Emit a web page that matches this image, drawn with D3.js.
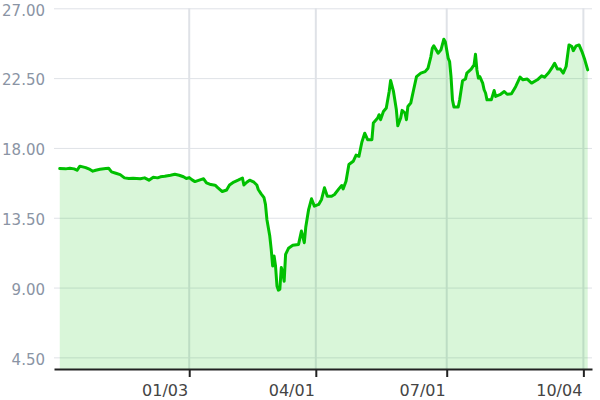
<!DOCTYPE html>
<html>
<head>
<meta charset="utf-8">
<script src="https://cdn.jsdelivr.net/npm/d3@7"></script>
<style>
  body { margin: 0; background: #fff; }
  svg { display: block; }
</style>
</head>
<body>
<div id="chart"></div>
<script>
// dates and closing values
const dates = [
  "2021-10-05","2021-10-09","2021-10-12","2021-10-15","2021-10-17","2021-10-19","2021-10-21","2021-10-23","2021-10-26","2021-10-28",
  "2021-10-30","2021-11-02","2021-11-06","2021-11-08","2021-11-10","2021-11-13","2021-11-16","2021-11-19","2021-11-22","2021-11-25",
  "2021-11-30","2021-12-03","2021-12-06","2021-12-09","2021-12-12","2021-12-14","2021-12-17","2021-12-21","2021-12-24","2021-12-27",
  "2021-12-30","2022-01-01","2022-01-03","2022-01-05","2022-01-07","2022-01-11","2022-01-13","2022-01-15","2022-01-18","2022-01-21",
  "2022-01-23","2022-01-26","2022-01-29","2022-01-31","2022-02-03","2022-02-06","2022-02-09","2022-02-10","2022-02-12","2022-02-14",
  "2022-02-17","2022-02-19","2022-02-20","2022-02-22","2022-02-24","2022-02-25","2022-02-26","2022-02-28","2022-03-01","2022-03-02",
  "2022-03-03","2022-03-04","2022-03-05","2022-03-06","2022-03-07","2022-03-08","2022-03-09","2022-03-10","2022-03-11","2022-03-13",
  "2022-03-16","2022-03-20","2022-03-22","2022-03-24","2022-03-25","2022-03-27","2022-03-29","2022-03-31","2022-04-03","2022-04-05",
  "2022-04-07","2022-04-09","2022-04-12","2022-04-14","2022-04-17","2022-04-19","2022-04-20","2022-04-22","2022-04-24","2022-04-27",
  "2022-04-29","2022-05-01","2022-05-03","2022-05-05","2022-05-07","2022-05-10","2022-05-11","2022-05-14","2022-05-15","2022-05-16",
  "2022-05-18","2022-05-20","2022-05-22","2022-05-23","2022-05-25","2022-05-27","2022-05-28","2022-05-30","2022-05-31","2022-06-02",
  "2022-06-03","2022-06-04","2022-06-06","2022-06-07","2022-06-08","2022-06-10","2022-06-13","2022-06-16","2022-06-18","2022-06-20",
  "2022-06-21","2022-06-22","2022-06-25","2022-06-27","2022-06-29","2022-06-30","2022-07-02","2022-07-03","2022-07-04","2022-07-05",
  "2022-07-06","2022-07-09","2022-07-10","2022-07-12","2022-07-14","2022-07-15","2022-07-18","2022-07-20","2022-07-21","2022-07-22",
  "2022-07-23","2022-07-24","2022-07-26","2022-07-27","2022-07-28","2022-07-29","2022-08-01","2022-08-03","2022-08-04","2022-08-07",
  "2022-08-10","2022-08-12","2022-08-15","2022-08-18","2022-08-21","2022-08-23","2022-08-26","2022-08-29","2022-09-02","2022-09-05",
  "2022-09-07","2022-09-10","2022-09-12","2022-09-14","2022-09-16","2022-09-18","2022-09-20","2022-09-22","2022-09-24","2022-09-26",
  "2022-09-27","2022-09-29","2022-10-01","2022-10-03","2022-10-05","2022-10-07"
];

const values = [
  16.67,16.65,16.69,16.65,16.56,16.82,16.78,16.73,16.61,16.50,
  16.56,16.62,16.67,16.69,16.46,16.37,16.28,16.07,16.03,16.05,
  16.01,16.07,15.92,16.11,16.07,16.14,16.17,16.24,16.30,16.24,
  16.14,16.03,16.09,15.94,15.83,15.96,16.01,15.75,15.64,15.60,
  15.43,15.19,15.29,15.61,15.80,15.92,16.06,15.61,15.79,15.92,
  15.79,15.61,15.32,15.04,14.79,14.36,13.39,12.32,11.46,10.39,
  11.03,10.39,9.10,8.83,8.89,10.29,9.97,9.41,11.14,11.53,
  11.72,11.78,12.64,11.89,12.88,14.03,14.72,14.25,14.36,14.68,
  15.43,14.89,14.89,15.00,15.36,15.58,15.36,15.85,16.93,17.14,
  17.54,17.46,18.37,18.95,18.53,18.53,19.61,19.93,20.14,19.82,
  20.35,20.57,21.64,22.35,21.64,20.46,19.43,19.93,20.42,20.25,
  19.82,20.67,20.89,21.32,21.75,22.60,22.82,22.92,23.14,23.89,
  24.43,24.58,24.11,24.32,25.01,24.85,23.79,23.57,22.60,21.10,
  20.64,20.64,21.10,22.33,22.44,22.82,23.08,23.35,24.04,23.03,
  22.50,22.60,22.18,21.75,21.54,21.10,21.10,21.70,21.32,21.43,
  21.64,21.46,21.49,21.96,22.56,22.39,22.44,22.18,22.39,22.65,
  22.56,22.86,23.14,23.46,23.08,23.08,22.82,23.25,24.64,24.53,
  24.27,24.58,24.64,24.21,23.68,23.03
];

const xTicks = ["2022-01-03", "2022-04-01", "2022-07-01", "2022-10-04"];
const yTicks = [4.5, 9, 13.5, 18, 22.5, 27];

const width = 600;
const height = 400;
const plotLeft = 54, plotRight = 592, plotTop = 8.3, plotBottom = 369;

const parse = d3.timeParse("%Y-%m-%d");
const data = dates.map((d, i) => ({ date: parse(d), value: values[i] }));

const svg = d3.select("#chart")
  .append("svg")
  .attr("width", width)
  .attr("height", height);

const x = d3.scaleTime()
  .domain([parse("2021-10-01"), parse("2022-10-10")])
  .range([plotLeft, plotRight]);

const y = d3.scaleLinear()
  .domain([3.75, 27])
  .range([plotBottom, plotTop]);

// horizontal grid + y labels
const yAxis = svg.append("g")
  .attr("transform", `translate(${plotLeft},0)`)
  .call(d3.axisLeft(y)
    .tickValues(yTicks)
    .tickFormat(d3.format(".2f"))
    .tickSizeInner(-(plotRight - plotLeft))
    .tickSizeOuter(0)
    .tickPadding(9));
yAxis.select(".domain").remove();
yAxis.selectAll(".tick line").attr("stroke", "#dfe2e7").attr("stroke-width", 1);
yAxis.selectAll(".tick text")
  .attr("fill", "#8a94a4")
  .attr("dy", "0.45em")
  .style("font-family", "'DejaVu Sans', Verdana, sans-serif")
  .style("font-size", "15px");

// vertical grid
svg.append("g")
  .selectAll("line")
  .data(xTicks.map(parse))
  .join("line")
  .attr("x1", d => x(d))
  .attr("x2", d => x(d))
  .attr("y1", plotTop)
  .attr("y2", plotBottom)
  .attr("stroke", "#dfe2e7")
  .attr("stroke-width", 2);

// area + line
const area = d3.area()
  .x(d => x(d.date))
  .y0(plotBottom)
  .y1(d => y(d.value));

const line = d3.line()
  .x(d => x(d.date))
  .y(d => y(d.value));

svg.append("path")
  .datum(data)
  .attr("d", area)
  .attr("fill", "rgba(0, 192, 0, 0.15)");

svg.append("path")
  .datum(data)
  .attr("d", line)
  .attr("fill", "none")
  .attr("stroke", "#00c000")
  .attr("stroke-width", 3)
  .attr("stroke-linejoin", "round")
  .attr("stroke-linecap", "round");

// x axis
const xAxis = svg.append("g")
  .attr("transform", `translate(0,${plotBottom})`)
  .call(d3.axisBottom(x)
    .tickValues(xTicks.map(parse))
    .tickFormat(d3.timeFormat("%m/%d"))
    .tickSizeInner(8)
    .tickSizeOuter(0)
    .tickPadding(6));
xAxis.select(".domain").attr("stroke", "#222").attr("stroke-width", 2);
xAxis.selectAll(".tick line").attr("stroke", "#222").attr("stroke-width", 2);
xAxis.selectAll(".tick text")
  .attr("fill", "#444")
  .attr("text-anchor", "end")
  .attr("x", -1.5)
  .attr("y", 27)
  .attr("dy", 0)
  .style("font-family", "'DejaVu Sans', Verdana, sans-serif")
  .style("font-size", "16px");
</script>
</body>
</html>
